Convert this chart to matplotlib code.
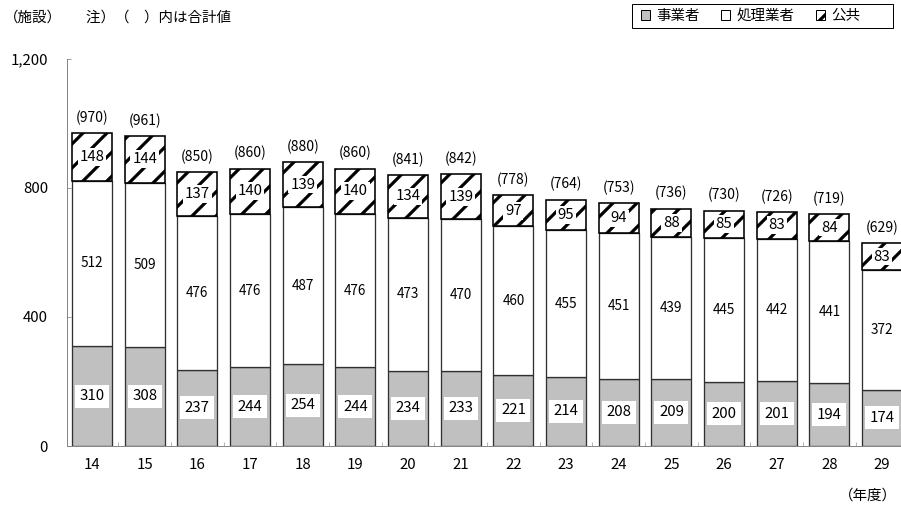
import matplotlib
matplotlib.use("Agg")
import matplotlib.pyplot as plt
from matplotlib.patches import Patch, Rectangle
import numpy as np

plt.rcParams['font.family'] = ['Noto Sans CJK JP', 'DejaVu Sans']
plt.rcParams['hatch.linewidth'] = 3.2
plt.rcParams['hatch.color'] = 'black'

years = ['14', '15', '16', '17', '18', '19', '20', '21', '22', '23', '24', '25', '26', '27', '28', '29']
jigyo = [310, 308, 237, 244, 254, 244, 234, 233, 221, 214, 208, 209, 200, 201, 194, 174]
shori = [512, 509, 476, 476, 487, 476, 473, 470, 460, 455, 451, 439, 445, 442, 441, 372]
kokyo = [148, 144, 137, 140, 139, 140, 134, 139, 97, 95, 94, 88, 85, 83, 84, 83]
totals = [970, 961, 850, 860, 880, 860, 841, 842, 778, 764, 753, 736, 730, 726, 719, 629]
series_names = ['事業者', '処理業者', '公共']

W, H = 901, 507
fig = plt.figure(figsize=(W / 72, H / 72), dpi=72)
left_px, right_px, y0_px, ytop_px = 67, 908.4, 446, 59
ax = fig.add_axes([left_px / W, (H - y0_px) / H, (right_px - left_px) / W, (y0_px - ytop_px) / H])

x = np.arange(len(years))
bw = 0.76
fs = 15      # numbers
fj = 14.5    # Japanese text
edge = '#303030'
j = np.array(jigyo)
s = np.array(shori)
k = np.array(kokyo)

ax.bar(x, j, bw, color='#C0C0C0', edgecolor=edge, linewidth=1.3, zorder=2)
ax.bar(x, s, bw, bottom=j, color='white', edgecolor=edge, linewidth=1.3, zorder=2)
ax.bar(x, k, bw, bottom=j + s, color='white', edgecolor='black', linewidth=1.6, hatch='/', zorder=2)

box = dict(boxstyle='square,pad=0.3', facecolor='white', edgecolor='none')
for i in range(len(years)):
    ax.text(x[i], j[i] / 2, str(jigyo[i]), ha='center', va='center', fontsize=fs, bbox=box, zorder=3)
    ax.text(x[i], j[i] + s[i] / 2, str(shori[i]), ha='center', va='center', fontsize=fs - 1.5, zorder=3)
    ax.text(x[i], j[i] + s[i] + k[i] / 2, str(kokyo[i]), ha='center', va='center', fontsize=fs,
            bbox=dict(boxstyle='square,pad=0.12', facecolor='white', edgecolor='none'), zorder=3)
    ax.annotate('(%d)' % totals[i], (x[i], totals[i]), xytext=(0, 8), textcoords='offset points',
                ha='center', va='bottom', fontsize=fs - 1)

ax.set_xlim(-0.475, 15.5)
ax.set_ylim(0, 1200)
ax.set_yticks([0, 400, 800, 1200])
ax.set_yticklabels(['0', '400', '800', '1,200'])
ax.set_xticks(x)
ax.set_xticklabels(years)
ax.set_xticks(np.arange(0.5, 15.5, 1), minor=True)
ax.tick_params(axis='x', which='major', length=0, pad=12, labelsize=fs)
ax.tick_params(axis='x', which='minor', length=4, direction='in', color='#868686')
ax.tick_params(axis='y', length=4, direction='in', pad=19, labelsize=fs, color='#868686')
for sp in ['top', 'right']:
    ax.spines[sp].set_visible(False)
for sp in ['left', 'bottom']:
    ax.spines[sp].set_color('#868686')
    ax.spines[sp].set_linewidth(1.0)

fig.text(4 / W, 1 - 18 / H, '（施設）', ha='left', va='center', fontsize=fj)
fig.text(86 / W, 1 - 18 / H, '注）（　）内は合計値', ha='left', va='center', fontsize=fj)
fig.text(897 / W, 1 - 496 / H, '（年度）', ha='right', va='center', fontsize=fj)

# legend frame
fig.patches.append(Rectangle((632 / W, 1 - 28 / H), (893 - 632) / W, 24 / H, transform=fig.transFigure,
                             facecolor='white', edgecolor='black', linewidth=1.0, zorder=1))
handles = [Patch(facecolor='#C0C0C0', edgecolor='black', linewidth=1.0),
           Patch(facecolor='white', edgecolor='black', linewidth=1.0),
           Patch(facecolor='white', edgecolor='black', linewidth=1.0, hatch='/')]
leg = fig.legend(handles, series_names, loc='center left', bbox_to_anchor=(641 / W, 1 - 16 / H),
                 ncol=3, fontsize=fj, frameon=False, handlelength=0.62,
                 handleheight=0.62, handletextpad=0.45, columnspacing=1.45, borderpad=0.0,
                 borderaxespad=0)
leg.set_zorder(2)

fig.savefig('out.png', dpi=72)
